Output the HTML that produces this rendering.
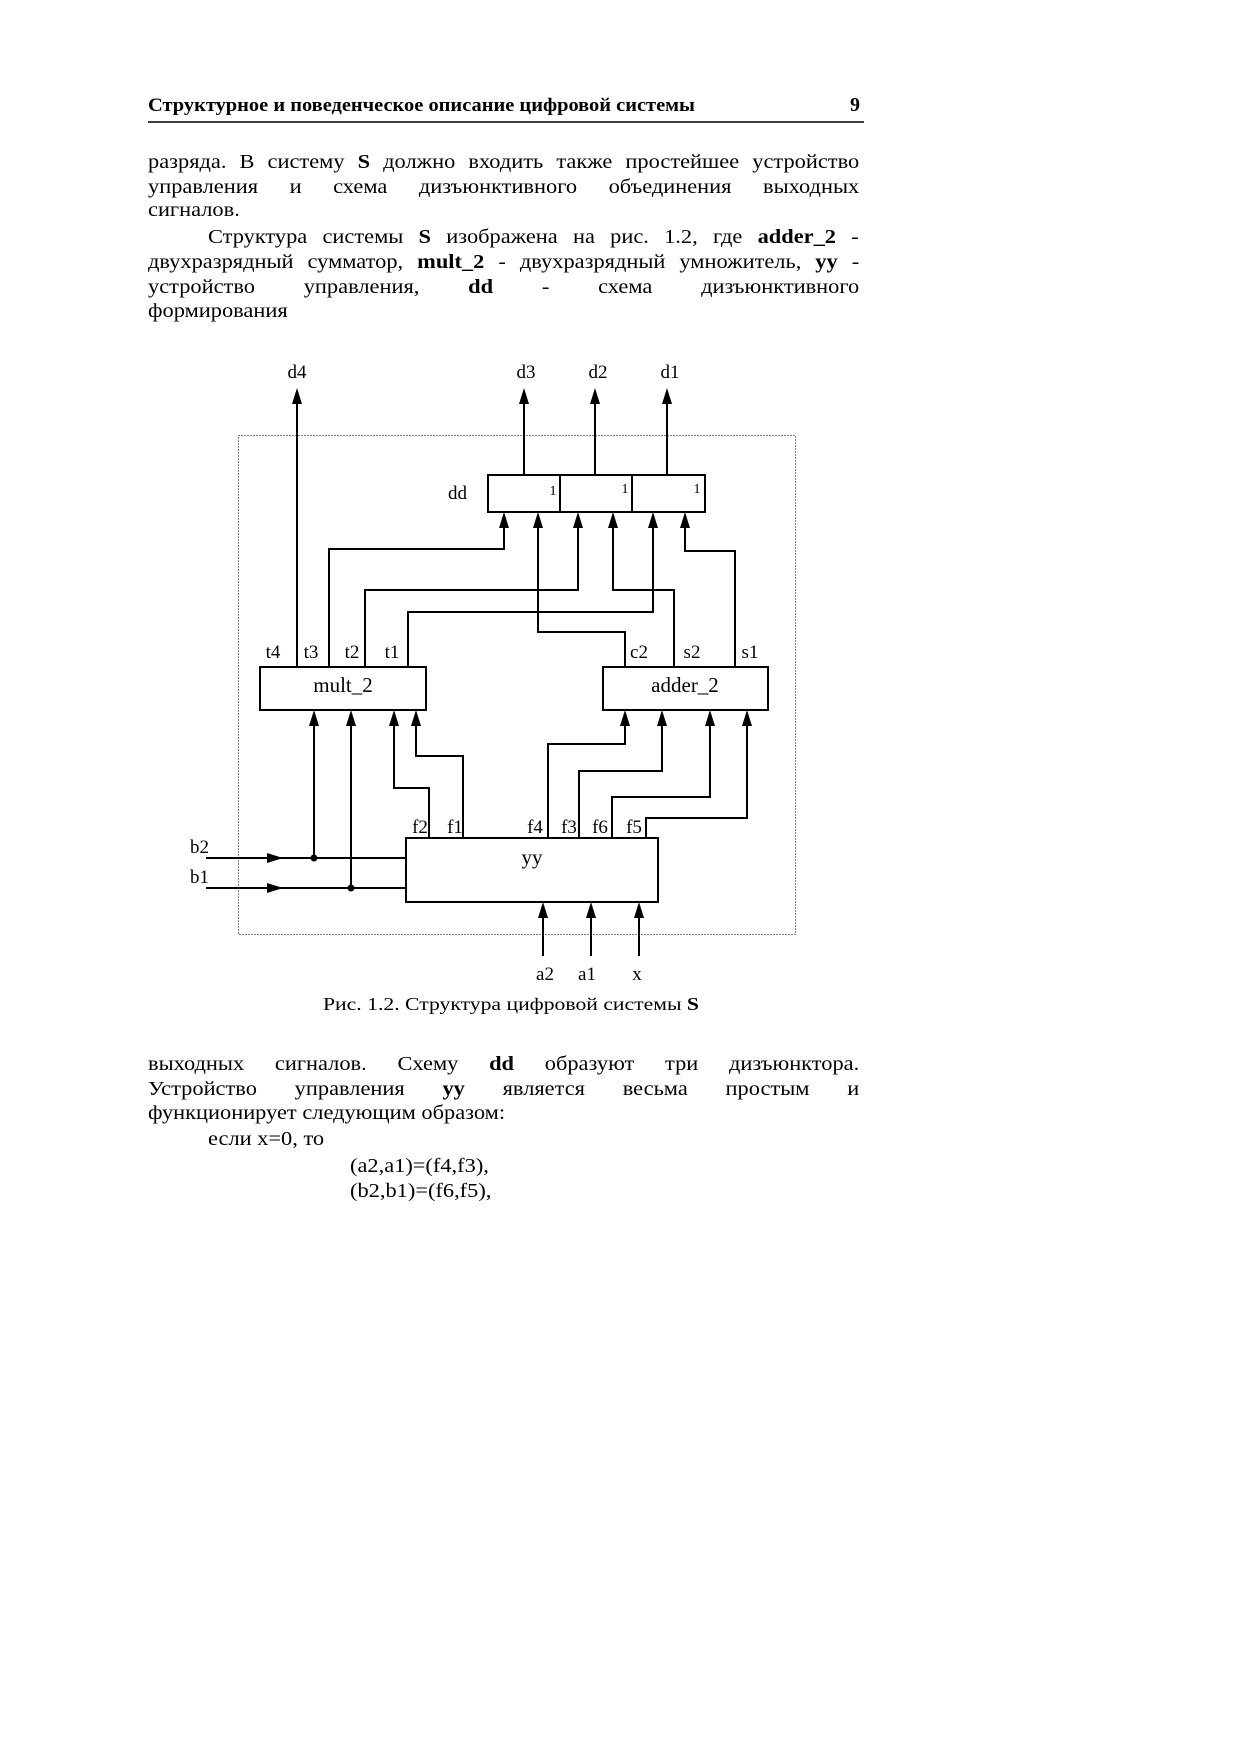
<!DOCTYPE html>
<html><head><meta charset="utf-8">
<style>
html,body{margin:0;padding:0;background:#fff;}
body{width:1240px;height:1755px;position:relative;overflow:hidden;font-family:"Liberation Serif","DejaVu Serif",serif;color:#000;}
.l{position:absolute;left:148px;width:635px;font-size:20px;line-height:20px;white-space:nowrap;transform:scaleX(1.12);transform-origin:0 0;}
.j{text-align:justify;text-align-last:justify;white-space:normal;}
b{font-weight:bold;}
svg{position:absolute;left:0;top:0;}
</style></head><body>
<svg width="1240" height="1755" xmlns="http://www.w3.org/2000/svg" font-family="Liberation Serif, serif">
<text x="148" y="111" font-size="19" font-weight="bold" textLength="547" lengthAdjust="spacingAndGlyphs">Структурное и поведенческое описание цифровой системы</text>
<text x="850" y="111" font-size="20" font-weight="bold">9</text>
<line x1="148" y1="122" x2="864" y2="122" stroke="#000" stroke-width="1.5"/>

<rect x="238.5" y="435.5" width="557" height="499" fill="none" stroke="#000" stroke-width="1" stroke-dasharray="1,2"/>

<g fill="none" stroke="#000" stroke-width="2">
<rect x="488" y="475" width="217" height="37"/>
<line x1="560" y1="475" x2="560" y2="512"/>
<line x1="632" y1="475" x2="632" y2="512"/>
<rect x="260" y="667" width="166" height="43"/>
<rect x="603" y="667" width="165" height="43"/>
<rect x="406" y="838" width="252" height="64"/>
<path d="M297 667V395"/>
<path d="M524 475V395M595 475V395M667 475V395"/>
<path d="M329 667V549H504V520"/>
<path d="M365 667V590H578V520"/>
<path d="M408 667V612H653V520"/>
<path d="M625 667V632H538V520"/>
<path d="M674 667V590H613V520"/>
<path d="M735 667V551H685V520"/>
<path d="M206 858H406M206 888H406"/>
<path d="M314 858V718M351 888V718"/>
<path d="M429 838V788H394V718"/>
<path d="M463 838V756H416V718"/>
<path d="M548 838V744H625V718"/>
<path d="M579 838V771H662V718"/>
<path d="M612 838V797H710V718"/>
<path d="M646 838V818H747V718"/>
<path d="M543 956V910M591 956V910M639 956V910"/>
</g>
<g fill="#000">
<polygon points="297,388 292,404 302,404"/>
<polygon points="524,388 519,404 529,404"/>
<polygon points="595,388 590,404 600,404"/>
<polygon points="667,388 662,404 672,404"/>
<polygon points="504,512 499,528 509,528"/>
<polygon points="538,512 533,528 543,528"/>
<polygon points="578,512 573,528 583,528"/>
<polygon points="613,512 608,528 618,528"/>
<polygon points="653,512 648,528 658,528"/>
<polygon points="685,512 680,528 690,528"/>
<polygon points="314,710 309,726 319,726"/>
<polygon points="351,710 346,726 356,726"/>
<polygon points="394,710 389,726 399,726"/>
<polygon points="416,710 411,726 421,726"/>
<polygon points="625,710 620,726 630,726"/>
<polygon points="662,710 657,726 667,726"/>
<polygon points="710,710 705,726 715,726"/>
<polygon points="747,710 742,726 752,726"/>
<polygon points="543,902 538,918 548,918"/>
<polygon points="591,902 586,918 596,918"/>
<polygon points="639,902 634,918 644,918"/>
<polygon points="283,858 267,853 267,863"/>
<polygon points="283,888 267,883 267,893"/>
<circle cx="314" cy="858" r="3.5"/>
<circle cx="351" cy="888" r="3.5"/>
</g>
<g font-size="19">
<text x="297" y="378" text-anchor="middle">d4</text>
<text x="526" y="378" text-anchor="middle">d3</text>
<text x="598" y="378" text-anchor="middle">d2</text>
<text x="670" y="378" text-anchor="middle">d1</text>
<text x="448" y="499">dd</text>
<text x="273" y="658" text-anchor="middle">t4</text>
<text x="311" y="658" text-anchor="middle">t3</text>
<text x="352" y="658" text-anchor="middle">t2</text>
<text x="392" y="658" text-anchor="middle">t1</text>
<text x="639" y="658" text-anchor="middle">c2</text>
<text x="692" y="658" text-anchor="middle">s2</text>
<text x="750" y="658" text-anchor="middle">s1</text>
<text x="343" y="692" text-anchor="middle" font-size="21">mult_2</text>
<text x="685" y="692" text-anchor="middle" font-size="21">adder_2</text>
<text x="532" y="864" text-anchor="middle" font-size="21">yy</text>
<text x="420" y="833" text-anchor="middle">f2</text>
<text x="455" y="833" text-anchor="middle">f1</text>
<text x="535" y="833" text-anchor="middle">f4</text>
<text x="569" y="833" text-anchor="middle">f3</text>
<text x="600" y="833" text-anchor="middle">f6</text>
<text x="634" y="833" text-anchor="middle">f5</text>
<text x="190" y="853">b2</text>
<text x="190" y="883">b1</text>
<text x="545" y="980" text-anchor="middle">a2</text>
<text x="587" y="980" text-anchor="middle">a1</text>
<text x="637" y="980" text-anchor="middle">x</text>
</g>
<g font-size="14">
<text x="553" y="495" text-anchor="middle">1</text>
<text x="625" y="493" text-anchor="middle">1</text>
<text x="697" y="493" text-anchor="middle">1</text>
</g>
<text x="323" y="1010" font-size="18" textLength="376" lengthAdjust="spacingAndGlyphs">Рис. 1.2.  Структура цифровой системы  <tspan font-weight="bold">S</tspan></text>
</svg>

<div class="l j" style="top:152px">разряда. В систему <b>S</b> должно входить также простейшее устройство</div>
<div class="l j" style="top:177px">управления и схема дизъюнктивного объединения выходных</div>
<div class="l" style="top:200px">сигналов.</div>
<div class="l j" style="top:227px;left:208px;width:581px">Структура системы <b>S</b> изображена на рис. 1.2, где <b>adder_2</b> -</div>
<div class="l j" style="top:252px">двухразрядный сумматор, <b>mult_2</b> - двухразрядный умножитель, <b>yy</b> -</div>
<div class="l j" style="top:277px">устройство управления, <b>dd</b> - схема дизъюнктивного</div>
<div class="l" style="top:301px">формирования</div>

<div class="l j" style="top:1054px">выходных сигналов. Схему <b>dd</b> образуют три дизъюнктора.</div>
<div class="l j" style="top:1079px">Устройство управления <b>yy</b> является весьма простым и</div>
<div class="l" style="top:1103px">функционирует следующим образом:</div>
<div class="l" style="top:1129px;left:208px">если x=0, то</div>
<div class="l" style="top:1156px;left:350px">(a2,a1)=(f4,f3),</div>
<div class="l" style="top:1181px;left:350px">(b2,b1)=(f6,f5),</div>
</body></html>
